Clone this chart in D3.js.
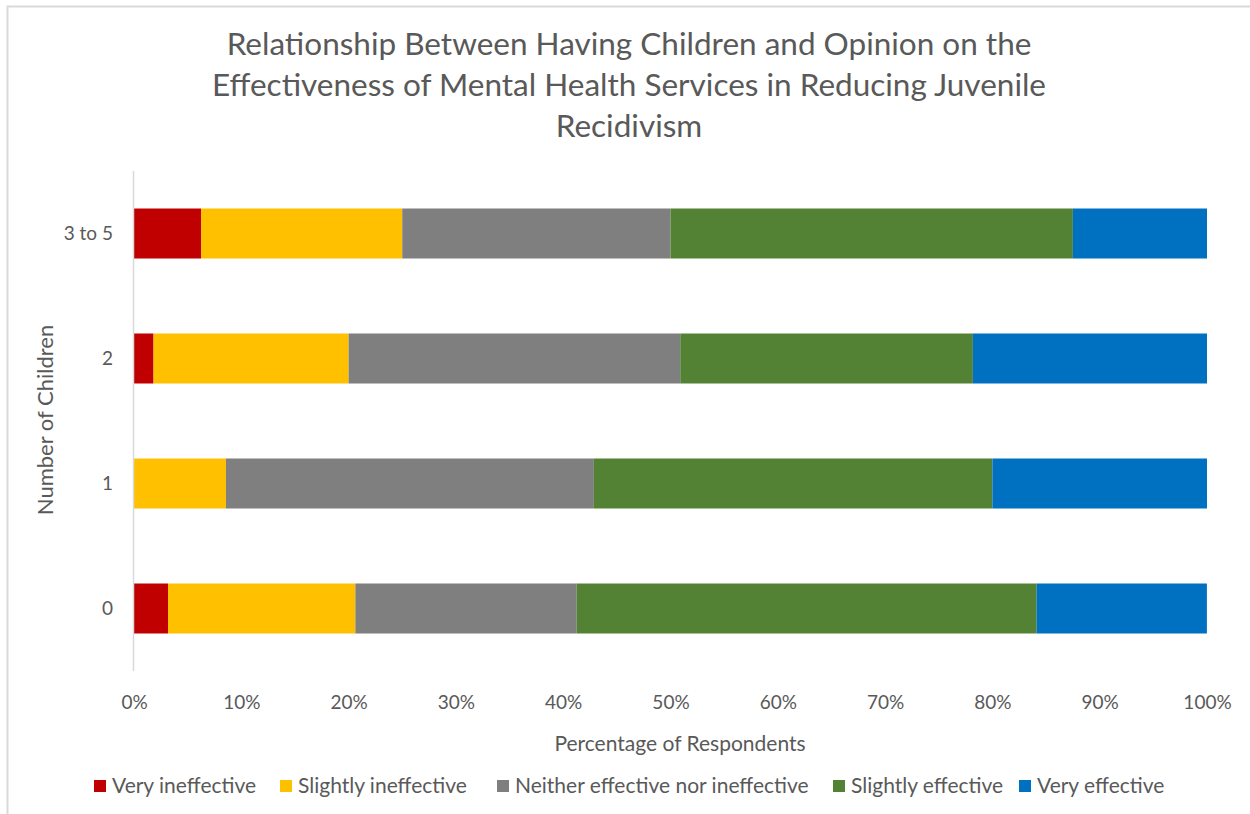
<!DOCTYPE html>
<html>
<head>
<meta charset="utf-8">
<script src="https://cdn.jsdelivr.net/npm/d3@7"></script>
<style>
  body { margin: 0; background: #fff; }
  text { font-family: Lato, "Open Sans", sans-serif; fill: #595959; }
</style>
</head>
<body>
<svg id="chart" width="1250" height="814"></svg>
<script>
const groups = ['0', '1', '2', '3 to 5']
const series = ['Very ineffective', 'Slightly ineffective', 'Neither effective nor ineffective', 'Slightly effective', 'Very effective']
const colors = ['#C00000', '#FFC000', '#7F7F7F', '#548235', '#0070C0']
// percent of respondents in each group
const veryIneffective = [3.17, 0, 1.82, 6.25]
const slightlyIneffective = [17.46, 8.57, 18.18, 18.75]
const neither = [20.63, 34.29, 30.91, 25]
const slightlyEffective = [42.86, 37.14, 27.27, 37.5]
const veryEffective = [15.87, 20, 21.82, 12.5]
const xTicks = [0, 10, 20, 30, 40, 50, 60, 70, 80, 90, 100]
const titleLines = ['Relationship Between Having Children and Opinion on the', 'Effectiveness of Mental Health Services in Reducing Juvenile', 'Recidivism']

const rows = groups.map((g, i) => ({
  group: g,
  'Very ineffective': veryIneffective[i],
  'Slightly ineffective': slightlyIneffective[i],
  'Neither effective nor ineffective': neither[i],
  'Slightly effective': slightlyEffective[i],
  'Very effective': veryEffective[i]
}))

const svg = d3.select('#chart')

// frame
svg.append('path')
  .attr('d', 'M7.5,814 V6.5 H1250')
  .attr('fill', 'none')
  .attr('stroke', '#d9d9d9')
  .attr('stroke-width', 2)

const x = d3.scaleLinear().domain([0, 100]).range([134, 1207])
const y = d3.scaleBand().domain(groups.slice().reverse()).range([171, 671])
  .paddingInner(0.6).paddingOuter(0.3)
const color = d3.scaleOrdinal().domain(series).range(colors)

const stack = d3.stack().keys(series)(rows)

svg.append('g')
  .selectAll('g')
  .data(stack)
  .join('g')
  .attr('fill', d => color(d.key))
  .selectAll('rect')
  .data(d => d)
  .join('rect')
  .attr('x', d => x(d[0]))
  .attr('width', d => x(d[1]) - x(d[0]))
  .attr('y', d => y(d.data.group))
  .attr('height', y.bandwidth())

// y axis line
svg.append('line')
  .attr('x1', 133.5).attr('x2', 133.5)
  .attr('y1', 171).attr('y2', 671)
  .attr('stroke', '#d9d9d9')
  .attr('stroke-width', 1.5)

const yAxis = svg.append('g')
  .attr('transform', 'translate(134,0)')
  .call(d3.axisLeft(y).tickSize(0).tickPadding(21))
yAxis.select('.domain').remove()
yAxis.attr('font-family', null)
yAxis.selectAll('text')
  .attr('font-size', 19)
  .attr('fill', null)

const xAxis = svg.append('g')
  .attr('transform', 'translate(0,671)')
  .call(d3.axisBottom(x).tickValues(xTicks).tickFormat(d => d + '%').tickSize(0).tickPadding(25))
xAxis.select('.domain').remove()
xAxis.attr('font-family', null)
xAxis.selectAll('text')
  .attr('font-size', 19)
  .attr('fill', null)

svg.append('g')
  .selectAll('text')
  .data(titleLines)
  .join('text')
  .attr('x', 629)
  .attr('y', (d, i) => 55 + i * 41)
  .attr('text-anchor', 'middle')
  .attr('font-size', 31.5)
  .text(d => d)

svg.append('text')
  .attr('x', 680)
  .attr('y', 751)
  .attr('text-anchor', 'middle')
  .attr('font-size', 21)
  .text('Percentage of Respondents')

svg.append('text')
  .attr('transform', 'translate(53,420) rotate(-90)')
  .attr('text-anchor', 'middle')
  .attr('font-size', 22)
  .text('Number of Children')

// legend
const legendX = [94, 280, 497, 833, 1019]
const legend = svg.append('g')
  .selectAll('g')
  .data(series)
  .join('g')
  .attr('transform', (d, i) => `translate(${legendX[i]},780)`)
legend.append('rect')
  .attr('width', 12).attr('height', 12)
  .attr('fill', d => color(d))
legend.append('text')
  .attr('x', 18).attr('y', 13)
  .attr('font-size', 21)
  .text(d => d)
</script>
</body>
</html>
